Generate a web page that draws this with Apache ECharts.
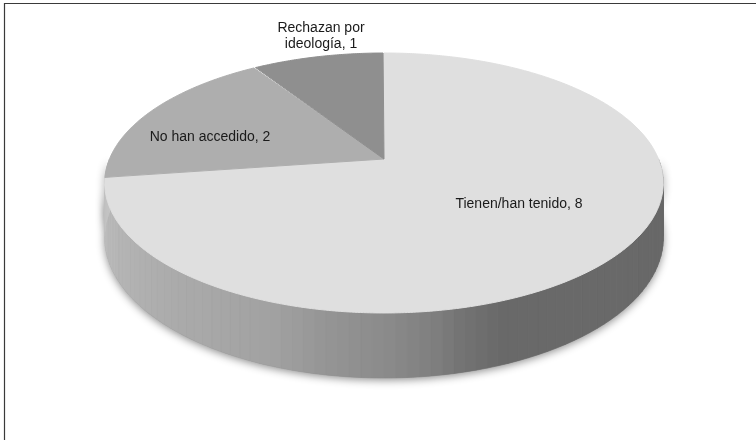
<!DOCTYPE html>
<html>
<head>
<meta charset="utf-8">
<script src="https://cdn.jsdelivr.net/npm/echarts@6/dist/echarts.min.js"></script>
<style>html,body{margin:0;padding:0;background:#fff}#c{width:756px;height:440px}</style>
</head>
<body>
<div id="c"></div>
<script>
// ---- data ----
const categories = ['Tienen/han tenido', 'No han accedido', 'Rechazan por\nideología'];
const values = [8, 2, 1];
const sliceColors = ['#dfdfdf', '#aeaeae', '#8f8f8f'];
// label anchor positions (layout, px)
const labelPos = [[519, 204], [210, 137], [321, 36]];

// ---- 3D pie projection (layout) ----
const CX = 384, A = 159, B = -96.2, C = 0.1846, S = 274.5, H = 53;
function proj(theta, d) {
  const t = theta * Math.PI / 180, u = Math.cos(t), v = Math.sin(t);
  const den = 1 + C * u;
  return [CX + S * v / den, (A + B * u + d * H) / den];
}
// wall shading stops (angle -> gray level)
const wallStops = [[90, 0x68], [160, 0x69], [167, 0x74], [172, 0x80], [180, 0x8b], [190, 0x95], [200, 0xa2], [230, 0xaf], [265, 0xc3], [270, 0xc6]];
function wallGray(th) {
  for (let i = 0; i < wallStops.length - 1; i++) {
    const a = wallStops[i], b = wallStops[i + 1];
    if (th >= a[0] && th <= b[0]) {
      const g = Math.round(a[1] + (b[1] - a[1]) * (th - a[0]) / (b[0] - a[0]));
      return 'rgb(' + g + ',' + g + ',' + g + ')';
    }
  }
  return '#888';
}

const total = values.reduce((s, v) => s + v, 0);

const chart = echarts.init(document.getElementById('c'), null, {renderer: 'canvas'});
chart.setOption({
  backgroundColor: '#fff',
  animation: false,
  graphic: [{
    type: 'rect', shape: {x: 4.5, y: 3.5, width: 800, height: 500},
    style: {fill: 'none', stroke: '#3a3a3a', lineWidth: 1.2}, z: 0
  }],
  series: [{
    type: 'custom',
    coordinateSystem: 'none',
    data: values.map((v, i) => ({value: v, name: categories[i]})),
    renderItem: function (params, api) {
      const i = params.dataIndex;
      const val = api.value(0);
      let before = 0;
      for (let k = 0; k < i; k++) before += values[k];
      const start = before / total * 360;
      const end = (before + val) / total * 360;
      const children = [];
      // visible wall
      const ws = Math.max(start, 90), we = Math.min(end, 270);
      if (we > ws) {
        const outline = [];
        for (let th = ws; th <= we + 1e-6; th += 1) outline.push(proj(Math.min(th, we), 0));
        for (let th = we; th >= ws - 1e-6; th -= 1) outline.push(proj(Math.max(th, ws), 1));
        children.push({
          type: 'polygon', z2: 0, shape: {points: outline},
          style: {fill: '#888', shadowBlur: 9, shadowColor: 'rgba(0,0,0,0.45)', shadowOffsetY: 2}
        });
        const step = 2;
        for (let th = ws; th < we; th += step) {
          const t2 = Math.min(th + step, we);
          const col = wallGray((th + t2) / 2);
          children.push({
            type: 'polygon', z2: 1,
            shape: {points: [proj(th, 0), proj(t2, 0), proj(t2, 1), proj(th, 1)]},
            style: {fill: col, stroke: col, lineWidth: 0.6}
          });
        }
      }
      // top face
      const pts = [[CX, A]];
      for (let th = start; th <= end + 1e-6; th += 0.5) pts.push(proj(Math.min(th, end), 0));
      children.push({
        type: 'polygon', z2: 2 + (i === 0 ? 0 : 1), shape: {points: pts},
        style: {fill: sliceColors[i], stroke: sliceColors[i], lineWidth: 1, lineJoin: 'round'}
      });
      // label
      const name = categories[i];
      children.push({
        type: 'text', z2: 5,
        x: labelPos[i][0], y: labelPos[i][1],
        style: {
          text: name + ', ' + val,
          fill: '#1a1a1a',
          font: '14px "Liberation Sans", Arial, sans-serif',
          align: 'center', verticalAlign: 'middle', lineHeight: 16
        }
      });
      return {type: 'group', children: children};
    }
  }]
});
</script>
</body>
</html>
